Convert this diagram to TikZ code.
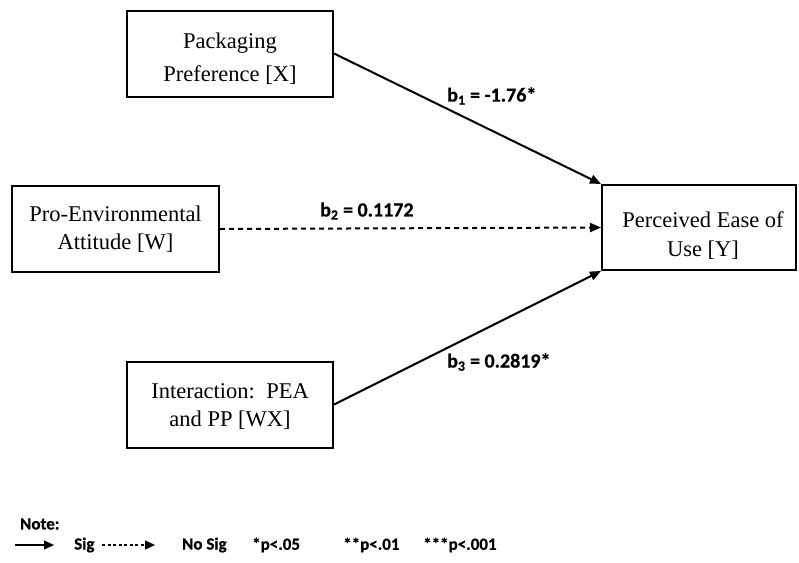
\documentclass[tikz,border=0pt]{standalone}
\usepackage{fontspec}
\setmainfont{Liberation Serif}
\newfontfamily\boxfont{Liberation Serif}
\newfontfamily\labelfont[FakeBold=0.6]{Carlito}
\usetikzlibrary{arrows.meta}
\begin{document}
\begin{tikzpicture}[x=1pt,y=-1pt,
  varbox/.style={draw, line width=2pt, inner sep=0pt,
    minimum width=206pt, minimum height=86pt},
  boxtext/.style={align=center, inner sep=0pt, font=\boxfont\fontsize{22.5}{#1}\selectfont},
  boxtext/.default=28,
  coef/.style={anchor=west, inner sep=0pt, font=\labelfont\bfseries\fontsize{20}{24}\selectfont},
  legend/.style={anchor=west, inner sep=0pt, font=\labelfont\bfseries\fontsize{17}{20}\selectfont},
  path/.style={line width=2pt, -{Triangle[length=11pt,width=9pt]}},
  nspath/.style={path, dash pattern=on 5pt off 4pt},
  keyline/.style={line width=1.3pt, -{Triangle[length=10pt,width=9pt]}},
  nskey/.style={keyline, dash pattern=on 3pt off 2.5pt}]
\useasboundingbox (0,0) rectangle (799,562);

% variables
\node[varbox] (pp) at (230,53.5) {};
\node[varbox, minimum width=207pt] (pea) at (115.5,229) {};
\node[varbox] (wx) at (230,404.5) {};
\node[varbox, minimum width=194pt, minimum height=85pt] (peu) at (699,227.5) {};

% box texts (yshift in pt, positive is upward)
\node[boxtext=33] (pptext) at ([yshift=-5pt]pp.center) {Packaging\\Preference [X]};
\node[boxtext] (peatext) at (pea.center) {Pro-Environmental\\Attitude [W]};
\node[boxtext] (wxtext) at ([yshift=-2pt]wx.center) {Interaction:\ \ PEA\\and PP [WX]};
\node[boxtext=29] (peutext) at ([xshift=4pt,yshift=-8pt]peu.center) {Perceived Ease of\\Use [Y]};

% paths
\draw[path] (pp.east) -- (peu.north west);
\draw[nspath] (pea.east) -- (peu.west);
\draw[path] (wx.east) -- (peu.south west);

% coefficients
\node[coef] (b1) at (447,96) {b\textsubscript{1} = -1.76*};
\node[coef] (b2) at (320,211) {b\textsubscript{2} = 0.1172};
\node[coef] (b3) at (447,362) {b\textsubscript{3} = 0.2819*};

% key
\node[legend] (note) at (20,524) {Note:};
\coordinate (s0) at (15,545);
\coordinate (s1) at (54,545);
\coordinate (d0) at (102,545);
\coordinate (d1) at (155,545);
\draw[keyline] (s0) -- (s1);
\draw[nskey] (d0) -- (d1);
\node[legend] (sig) at (74,545) {Sig};
\node[legend] (nosig) at (182,545) {No Sig};
\node[legend] (p1) at (252,545) {*p<.05};
\node[legend] (p2) at (343,545) {**p<.01};
\node[legend] (p3) at (423,545) {***p<.001};
\end{tikzpicture}
\end{document}
